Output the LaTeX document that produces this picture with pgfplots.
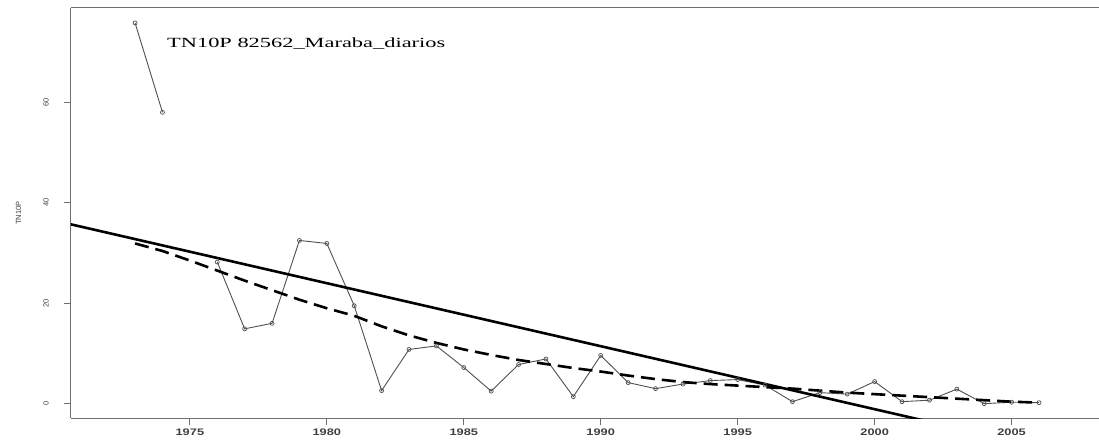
\documentclass[border=0pt]{standalone}
\usepackage{pgfplots}
\pgfplotsset{compat=1.18}
\usepackage{graphicx}
\usepackage{fontspec}
\setmainfont{Liberation Serif}
\newfontfamily\lsans{Liberation Sans}
\definecolor{dgray}{HTML}{505050}
\definecolor{axgray}{HTML}{707070}
\definecolor{txtgray}{HTML}{404040}

\pgfplotstableread{
year val
1973 75.8
1974 58.0
1975 nan
1976 28.2
1977 14.9
1978 16.0
1979 32.5
1980 31.9
1981 19.5
1982 2.6
1983 10.8
1984 11.5
1985 7.2
1986 2.5
1987 7.8
1988 8.9
1989 1.4
1990 9.6
1991 4.2
1992 3.0
1993 3.9
1994 4.6
1995 4.8
1996 3.7
1997 0.4
1998 2.2
1999 1.9
2000 4.4
2001 0.4
2002 0.7
2003 2.9
2004 0.0
2005 0.3
2006 0.2
}\obs

\pgfplotstableread{
year val
1973 31.9
1974 30.4
1975 28.5
1976 26.5
1977 24.5
1978 22.6
1979 20.7
1980 19.0
1981 17.5
1982 15.4
1983 13.6
1984 12.1
1985 10.8
1986 9.7
1987 8.7
1988 7.9
1989 7.1
1990 6.4
1991 5.6
1992 4.9
1993 4.3
1994 3.9
1995 3.6
1996 3.3
1997 3.0
1998 2.6
1999 2.2
2000 1.9
2001 1.6
2002 1.3
2003 1.0
2004 0.7
2005 0.4
2006 0.2
}\smooth

\begin{document}
\begin{tikzpicture}
\begin{axis}[
  scale only axis, width=1028pt, height=410pt,
  at={(0,0)}, anchor=south west,
  xmin=1970.66, xmax=2008.19, ymin=-2.85, ymax=78.78,
  axis x line*=box, axis y line*=left,
  axis line style={axgray, line width=1pt},
  xtick={1975,1980,...,2005}, ytick={0,20,40,60},
  xtick pos=left, ytick pos=left,
  tick align=outside, major tick length=7pt,
  tick style={axgray, line width=1pt},
  /pgf/number format/assume math mode=true,
  xticklabel={\scalebox{1.35}[1]{\lsans\bfseries\fontsize{9.5}{10}\selectfont\color{txtgray}\pgfmathprintnumber[1000 sep={}]{\tick}}},
  yticklabel={\lsans\fontsize{7.5}{8}\selectfont\color{txtgray}\pgfmathprintnumber{\tick}},
  yticklabel style={rotate=90, anchor=south, inner sep=1pt, yshift=14pt},
  ylabel={\lsans\fontsize{7.5}{8}\selectfont\color{txtgray}TN10P},
  y label style={at={(axis description cs:-0.0511,0.5)}, anchor=center},
  unbounded coords=jump,
  clip=true,
]
\addplot[dgray, line width=0.9pt, mark=o, mark size=2pt, mark options={solid, line width=0.7pt}] table[x=year, y=val] {\obs};
\addplot[black, line width=2.6pt, dash pattern=on 14pt off 7pt] table[x=year, y=val] {\smooth};
\addplot[black, line width=2.6pt] coordinates {(1970,36.53) (2003,-4.86)};
\node[anchor=base west, inner sep=0pt] at (rel axis cs:0.0934,0.9037) {\scalebox{1.6}[1]{\fontsize{14}{16}\selectfont TN10P 82562\_Maraba\_diarios}};
\end{axis}
\pgfresetboundingbox
\path[use as bounding box] (-71pt,-26pt) rectangle (1028pt,418pt);
\end{tikzpicture}
\end{document}
